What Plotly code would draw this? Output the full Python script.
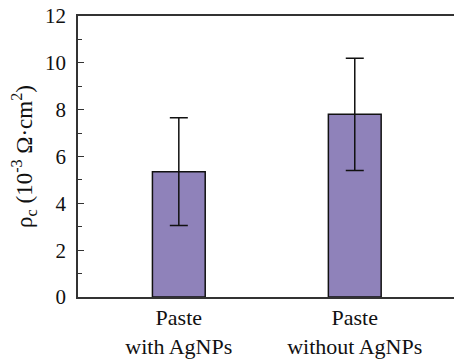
import plotly.graph_objects as go

categories = ["Paste<br>with AgNPs", "Paste<br>without AgNPs"]
values = [5.35, 7.8]
errors = [2.3, 2.4]
y_ticks = [0, 2, 4, 6, 8, 10, 12]

FONT = "Times New Roman, Liberation Serif, serif"

fig = go.Figure()
fig.add_trace(go.Bar(
    x=[0, 1],
    y=values,
    width=0.30,
    marker=dict(color="#8F82BA", line=dict(color="#111111", width=1.5)),
    error_y=dict(type="data", array=errors, visible=True, color="#111111",
                 thickness=1.5, width=9),
    hoverinfo="skip",
))

fig.update_layout(
    width=454, height=359,
    margin=dict(l=78, r=0, t=16, b=62),
    paper_bgcolor="white", plot_bgcolor="white",
    showlegend=False,
    font=dict(family=FONT, size=21, color="#111111"),
    xaxis=dict(
        range=[-0.573, 1.564],
        tickmode="array", tickvals=[0, 1], ticktext=categories,
        showline=True, linecolor="#333333", linewidth=1.5, mirror=True,
        ticks="", showgrid=False, zeroline=False,
        tickfont=dict(family=FONT, size=22),
    ),
    yaxis=dict(
        range=[0, 12],
        tickmode="array", tickvals=y_ticks,
        showline=True, linecolor="#333333", linewidth=1.5,
        ticks="inside", ticklen=6, tickwidth=1.2, tickcolor="#333333",
        minor=dict(dtick=1, ticks="inside", ticklen=4, tickwidth=1.2, tickcolor="#333333", showgrid=False),
        showgrid=False, zeroline=False,
        ticklabelstandoff=6,
        tickfont=dict(family=FONT, size=21),
        title=dict(text="ρ<sub>c</sub> (10<sup>-3</sup> Ω·cm<sup>2</sup>)",
                   font=dict(family=FONT, size=23), standoff=6),
    ),
)

fig.write_html("out.html", config={"displayModeBar": False},
               post_script="document.body.style.margin='0';document.body.style.overflow='hidden';")
